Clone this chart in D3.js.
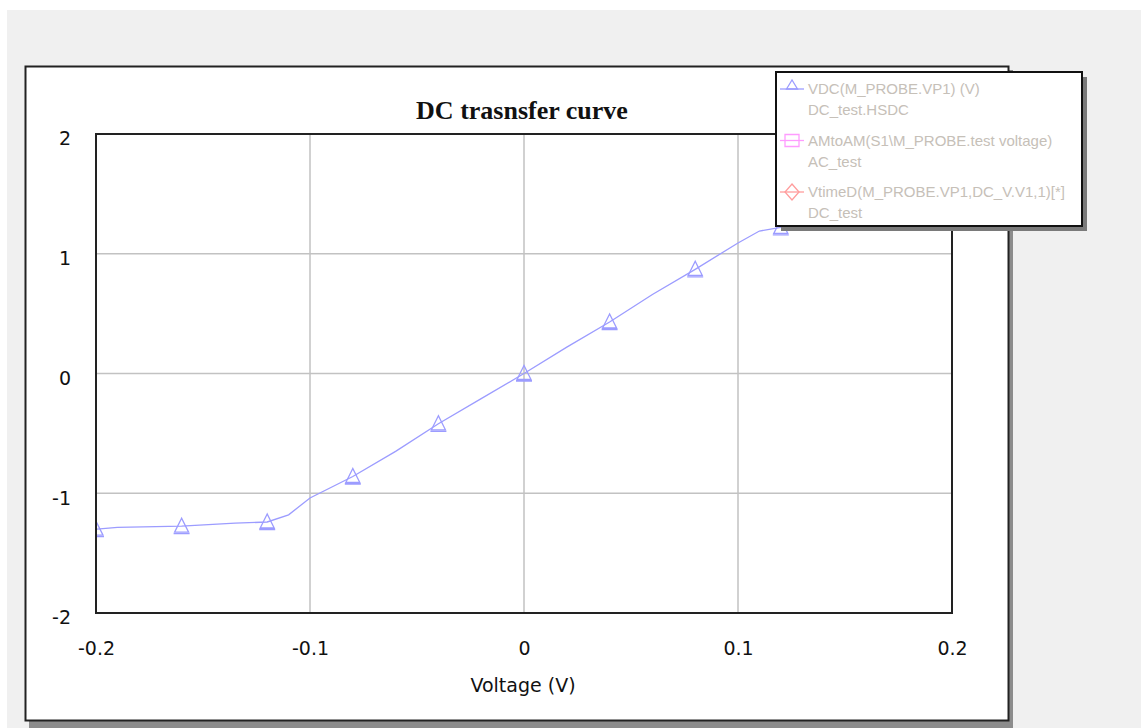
<!DOCTYPE html>
<html lang="en">
<head>
  <meta charset="UTF-8">
  <title>DC trasnsfer curve</title>
  <script src="https://d3js.org/d3.v7.min.js"></script>
  <style>
body {
  margin: 0;
  background: #fff;
}
svg text {
  font-family: 'DejaVu Sans', sans-serif;
}
.tick text {
  font-size: 19px;
  fill: #111;
}
.legend text {
  font-family: 'Liberation Sans', Arial, sans-serif;
  font-size: 15px;
  fill: #c6c0b8;
}
  </style>
</head>
<body>
<svg id="chart" width="1141" height="728"></svg>
<script>
/* global d3 */

// sweep voltage (V) and probe output
var sweepV = [-0.2, -0.19, -0.16, -0.135, -0.12, -0.11, -0.1, -0.08, -0.06, -0.04, -0.02,
              0, 0.02, 0.04, 0.06, 0.08, 0.1, 0.11, 0.12, 0.135, 0.16, 0.19, 0.2];
var vdc = [-1.30, -1.285, -1.275, -1.25, -1.24, -1.18, -1.04, -0.86, -0.65, -0.42, -0.21,
           0, 0.22, 0.43, 0.66, 0.87, 1.09, 1.19, 1.22, 1.25, 1.275, 1.285, 1.30];
// marker positions (every 0.04 V)
var markerV = [-0.2, -0.16, -0.12, -0.08, -0.04, 0, 0.04, 0.08, 0.12, 0.16, 0.2];

var xTicks = [-0.2, -0.1, 0, 0.1, 0.2];
var yTicks = [-2, -1, 0, 1, 2];

var legendItems = [
  {name: "VDC(M_PROBE.VP1) (V)", sub: "DC_test.HSDC", color: "#9c9cff", shape: "tri"},
  {name: "AMtoAM(S1\\M_PROBE.test voltage)", sub: "AC_test", color: "#ff9cff", shape: "sq"},
  {name: "VtimeD(M_PROBE.VP1,DC_V.V1,1)[*]", sub: "DC_test", color: "#ff9c9c", shape: "dia"}
];

var svg = d3.select("#chart");

// window background
svg.append("rect").attr("x", 7).attr("y", 10).attr("width", 1134).attr("height", 718)
  .attr("fill", "#f0f0f0");

// outer frame with shadow
svg.append("rect").attr("x", 29).attr("y", 70).attr("width", 984).attr("height", 660)
  .attr("fill", "#8c8c8c");
svg.append("rect").attr("x", 25.5).attr("y", 66.5).attr("width", 983).attr("height", 654)
  .attr("fill", "#fff").attr("stroke", "#222").attr("stroke-width", 2);

var pLeft = 96, pRight = 952, pTop = 134, pBottom = 613;

var x = d3.scaleLinear().domain([-0.2, 0.2]).range([pLeft, pRight]);
var y = d3.scaleLinear().domain([-2, 2]).range([pBottom, pTop]);

// grid
var grid = svg.append("g").attr("stroke", "#c2c2c2").attr("stroke-width", 1.5);
grid.selectAll(".gx").data(xTicks.slice(1, -1)).enter().append("line")
  .attr("x1", function (d) { return x(d); }).attr("x2", function (d) { return x(d); })
  .attr("y1", pTop).attr("y2", pBottom);
grid.selectAll(".gy").data(yTicks.slice(1, -1)).enter().append("line")
  .attr("y1", function (d) { return y(d); }).attr("y2", function (d) { return y(d); })
  .attr("x1", pLeft).attr("x2", pRight);

// axes (labels only)
var fmt = function (d) { return String(d); };
var xAxis = svg.append("g").attr("transform", "translate(0," + pBottom + ")")
  .call(d3.axisBottom(x).tickValues(xTicks).tickSize(0).tickPadding(29).tickFormat(fmt));
var yAxis = svg.append("g").attr("transform", "translate(" + pLeft + ",0)")
  .call(d3.axisLeft(y).tickValues(yTicks).tickSize(0).tickPadding(25).tickFormat(fmt));
[xAxis, yAxis].forEach(function (a) {
  a.select(".domain").remove();
});
yAxis.selectAll("text").attr("dy", "0.36em").attr("transform", "translate(0,4)");

// plot border
svg.append("rect").attr("x", pLeft).attr("y", pTop).attr("width", pRight - pLeft).attr("height", pBottom - pTop)
  .attr("fill", "none").attr("stroke", "#222").attr("stroke-width", 2);

svg.append("clipPath").attr("id", "clip").append("rect")
  .attr("x", pLeft + 1).attr("y", pTop + 1).attr("width", pRight - pLeft - 2).attr("height", pBottom - pTop - 2);

var plot = svg.append("g").attr("clip-path", "url(#clip)");
var pts = sweepV.map(function (v, i) { return [v, vdc[i]]; });
var line = d3.line().x(function (d) { return x(d[0]); }).y(function (d) { return y(d[1]); });
plot.append("path").datum(pts).attr("d", line)
  .attr("fill", "none").attr("stroke", "#9c9cff").attr("stroke-width", 1.3);

var tri = "M0,-8L-7,6L7,6Z M-8,7.5H8";
plot.selectAll(".m").data(markerV).enter().append("path")
  .attr("transform", function (v) { return "translate(" + x(v) + "," + y(vdc[sweepV.indexOf(v)]) + ")"; })
  .attr("d", tri).attr("fill", "none").attr("stroke", "#9c9cff").attr("stroke-width", 1.3);

// title
svg.append("text").attr("x", 522).attr("y", 119).attr("text-anchor", "middle")
  .style("font-family", "'Liberation Serif', 'Times New Roman', serif")
  .style("font-weight", "bold").style("font-size", "26px").attr("fill", "#111")
  .text("DC trasnsfer curve");

// x axis title
svg.append("text").attr("x", 523).attr("y", 692).attr("text-anchor", "middle")
  .style("font-size", "19px").attr("fill", "#111").text("Voltage (V)");

// legend
var lg = svg.append("g").attr("class", "legend").attr("transform", "translate(776,72)");
lg.append("rect").attr("x", 5).attr("y", 5).attr("width", 306).attr("height", 154).attr("fill", "#7a7a7a");
lg.append("rect").attr("x", 0).attr("y", 0).attr("width", 306).attr("height", 154)
  .attr("fill", "#fff").attr("stroke", "#111").attr("stroke-width", 2);

var item = lg.selectAll(".item").data(legendItems).enter().append("g")
  .attr("transform", function (d, i) { return "translate(0," + (17 + i * 51.5) + ")"; });
item.append("line").attr("x1", 4).attr("x2", 28).attr("y1", 0).attr("y2", 0)
  .attr("stroke", function (d) { return d.color; }).attr("stroke-width", 1.3);
item.append("path")
  .attr("d", function (d) {
    if (d.shape === "tri") return "M16,-9L10.5,0L21.5,0Z";
    if (d.shape === "sq") return "M9,-6H23V6H9Z";
    return "M16,-8L23,0L16,8L9,0Z";
  })
  .attr("fill", "none").attr("stroke", function (d) { return d.color; }).attr("stroke-width", 1.3);
item.append("text").attr("x", 32).attr("y", 5).text(function (d) { return d.name; });
item.append("text").attr("x", 32).attr("y", 26).text(function (d) { return d.sub; });
</script>
</body>
</html>
